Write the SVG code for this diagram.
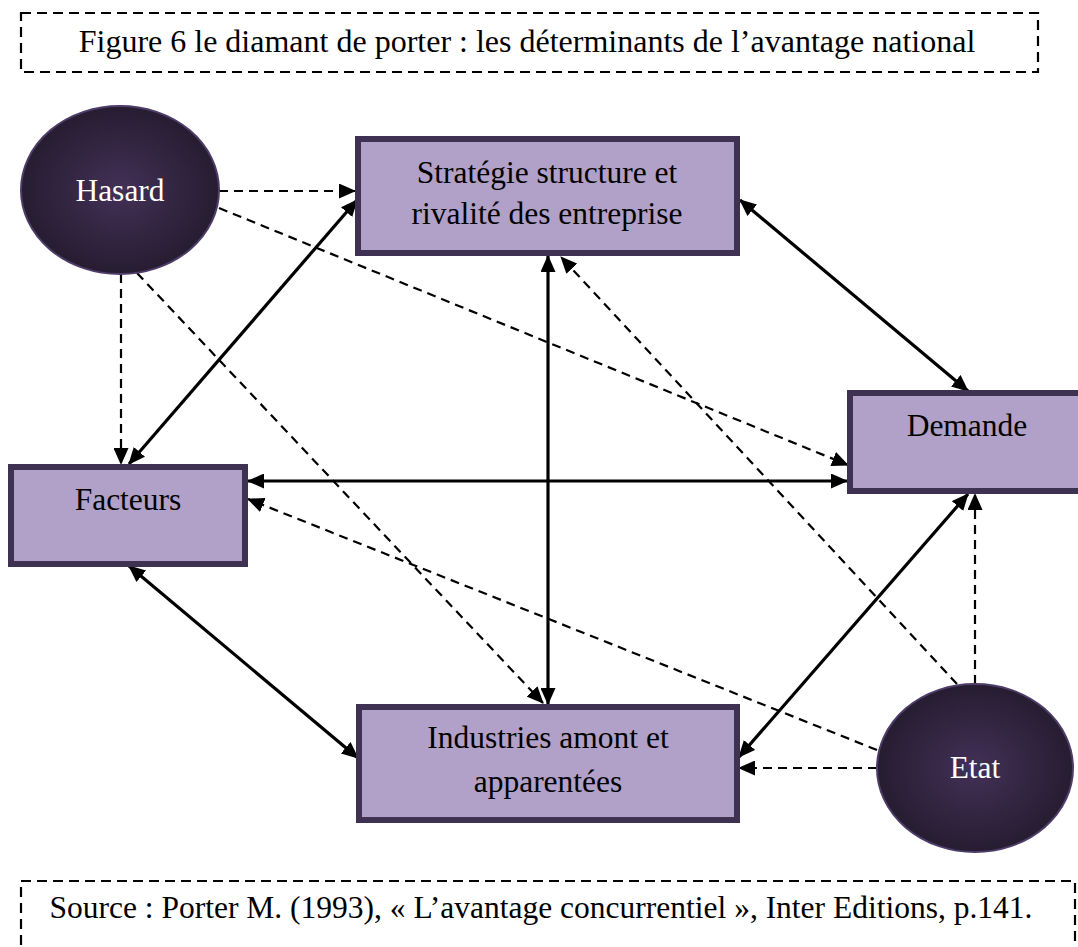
<svg xmlns="http://www.w3.org/2000/svg" width="1078" height="947" viewBox="0 0 1078 947">
  <defs>
    <style>
      .frame { fill: none; stroke: #000; stroke-width: 2.2; stroke-dasharray: 10 6; }
      .box { fill: #b1a0c7; stroke: #3f3151; stroke-width: 6; }
      .oval { fill: url(#ovalFill); stroke: #4d3d68; stroke-width: 2; }
      .lbl { font-size: 31.5px; fill: #000; text-anchor: middle; }
      .lbl-w { font-size: 31.5px; fill: #fff; text-anchor: middle; }
      .caption { font-size: 32px; }
      .solid { fill: none; stroke: #000; stroke-width: 3.2; marker-start: url(#head); marker-end: url(#head); }
      .dash { fill: none; stroke: #000; stroke-width: 2.2; stroke-dasharray: 9 6; marker-end: url(#head); }
    </style>
    <radialGradient id="ovalFill" cx="50%" cy="50%" r="50%">
      <stop offset="0" stop-color="#433057"/>
      <stop offset="1" stop-color="#261d31"/>
    </radialGradient>
    <marker id="head" viewBox="0 0 17 15" refX="16" refY="7.5" markerWidth="17" markerHeight="15" markerUnits="userSpaceOnUse" orient="auto-start-reverse">
      <path d="M0,0 L17,7.5 L0,15 z" fill="#000"/>
    </marker>
  </defs>

  <!-- caption frame -->
  <g id="title" font-family="Liberation Serif, Tinos, DejaVu Serif, serif">
    <rect class="frame" x="21" y="13" width="1017" height="59"/>
    <text class="lbl caption" x="527" y="52">Figure 6 le diamant de porter : les déterminants de l’avantage national</text>
  </g>

  <!-- connectors -->
  <g id="connectors">
    <line class="solid" x1="357" y1="200" x2="129" y2="464"/>
    <line class="solid" x1="740" y1="200" x2="968" y2="391"/>
    <line class="solid" x1="548" y1="256" x2="548" y2="704"/>
    <line class="solid" x1="248" y1="481" x2="847" y2="481"/>
    <line class="solid" x1="129" y1="566" x2="358" y2="758"/>
    <line class="solid" x1="968" y1="494" x2="739" y2="757"/>

    <line class="dash" x1="219" y1="191" x2="355" y2="191"/>
    <line class="dash" x1="219" y1="208" x2="848" y2="465"/>
    <line class="dash" x1="121" y1="274" x2="121" y2="464"/>
    <line class="dash" x1="137" y1="273" x2="543" y2="703"/>
    <line class="dash" x1="957" y1="684" x2="561" y2="257"/>
    <line class="dash" x1="975" y1="684" x2="975" y2="494"/>
    <line class="dash" x1="877" y1="750" x2="248" y2="499"/>
    <line class="dash" x1="877" y1="768" x2="739" y2="768"/>
  </g>

  <g id="hasard" font-family="Liberation Serif, Tinos, DejaVu Serif, serif">
    <ellipse class="oval" cx="120" cy="190" rx="99" ry="84"/>
    <text class="lbl-w" x="120" y="201">Hasard</text>
  </g>

  <g id="strategie" font-family="Liberation Serif, Tinos, DejaVu Serif, serif">
    <rect class="box" x="358" y="139" width="379" height="114"/>
    <text class="lbl" x="547" y="183">Stratégie structure et</text>
    <text class="lbl" x="547" y="224">rivalité des entreprise</text>
  </g>

  <g id="demande" font-family="Liberation Serif, Tinos, DejaVu Serif, serif">
    <rect class="box" x="850" y="393" width="240" height="98"/>
    <text class="lbl" x="967" y="436">Demande</text>
  </g>

  <g id="facteurs" font-family="Liberation Serif, Tinos, DejaVu Serif, serif">
    <rect class="box" x="11" y="467" width="234" height="97"/>
    <text class="lbl" x="128" y="510">Facteurs</text>
  </g>

  <g id="industries" font-family="Liberation Serif, Tinos, DejaVu Serif, serif">
    <rect class="box" x="359" y="707" width="378" height="113"/>
    <text class="lbl" x="548" y="748">Industries amont et</text>
    <text class="lbl" x="548" y="792">apparentées</text>
  </g>

  <g id="etat" font-family="Liberation Serif, Tinos, DejaVu Serif, serif">
    <ellipse class="oval" cx="975" cy="768" rx="98" ry="84"/>
    <text class="lbl-w" x="975" y="778">Etat</text>
  </g>

  <!-- source frame -->
  <g id="source" font-family="Liberation Serif, Tinos, DejaVu Serif, serif">
    <rect class="frame" x="21" y="881" width="1054" height="90"/>
    <text class="lbl" x="541" y="918">Source : Porter M. (1993), « L’avantage concurrentiel », Inter Editions, p.141.</text>
  </g>
</svg>
